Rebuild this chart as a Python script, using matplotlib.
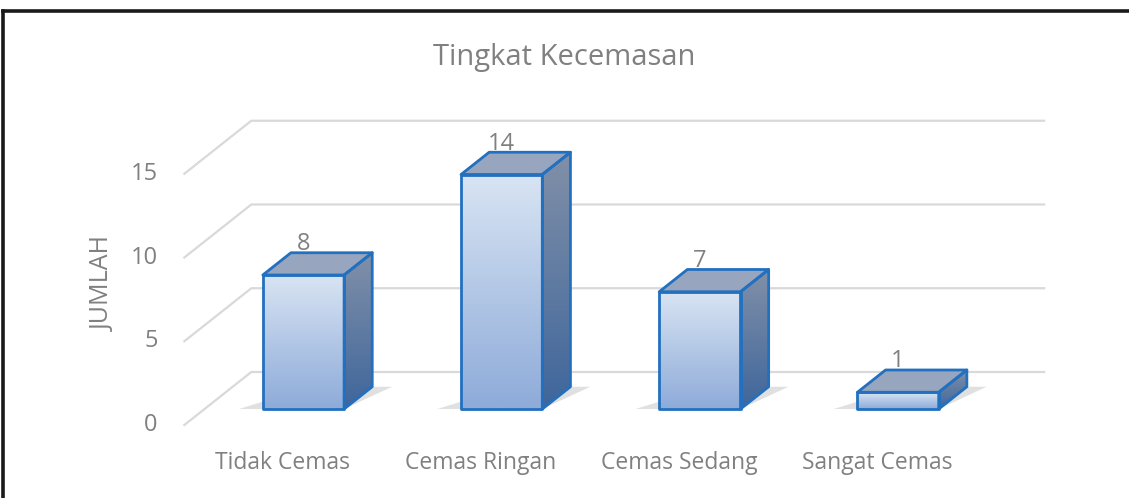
import numpy as np
import matplotlib
matplotlib.use("Agg")
import matplotlib.pyplot as plt
from matplotlib.patches import Polygon
from matplotlib.lines import Line2D

categories = ["Tidak Cemas", "Cemas Ringan", "Cemas Sedang", "Sangat Cemas"]
values = [8, 14, 7, 1]
yticks = [0, 5, 10, 15]
title = "Tingkat Kecemasan"
ylabel = "JUMLAH"

plt.rcParams['font.family'] = ['Open Sans', 'DejaVu Sans']
gray = "#808080"
edge = "#2270c0"

# oblique projection: full floor depth, in data units (x = categories, y = values)
DEPTH = np.array([0.338, 3.165])
FRONT = np.array([-0.101, -0.955])   # front edge of floor relative to bar front plane
T0, T1 = 0.30, 0.72                  # bar depth range as fraction of floor depth
W = 0.41


def at(x, y, t):
    return np.array([x, y]) + FRONT + DEPTH * t


fig = plt.figure(figsize=(11.29, 4.98), dpi=100)
ax = fig.add_axes([0, 0, 1, 1])
ax.set_xlim(-1.531, 4.165)
ax.set_ylim(-5.313, 24.418)
ax.axis("off")

# back wall gridlines with the diagonal on the side wall
n = len(categories)
for v in yticks:
    p0 = at(-0.5, v, 0)
    p1 = at(-0.5, v, 1)
    p2 = at(n - 0.5, v, 1)
    ax.plot([p0[0], p1[0], p2[0]], [p0[1], p1[1], p2[1]], color="#d9d9d9", lw=1.6, zorder=1)
    ax.text(p0[0] - 0.135, p0[1], str(v), ha="right", va="center", fontsize=17, color=gray)

ax.text(-1.01, 7.5, ylabel, rotation=90, ha="center", va="center", fontsize=18, color=gray)


def grad_fill(poly_pts, c_top, c_bot, z):
    poly = Polygon(poly_pts, closed=True, facecolor="none", edgecolor="none", zorder=z)
    ax.add_patch(poly)
    xs, ys = poly_pts[:, 0], poly_pts[:, 1]
    c1 = np.array(matplotlib.colors.to_rgb(c_top))
    c2 = np.array(matplotlib.colors.to_rgb(c_bot))
    g = np.linspace(0, 1, 64)[:, None]
    img = (c1 * (1 - g) + c2 * g)[:, None, :]
    im = ax.imshow(img, extent=[xs.min(), xs.max(), ys.min(), ys.max()],
                   origin="upper", aspect="auto", zorder=z, interpolation="bilinear")
    im.set_clip_path(poly)


off = -at(0, 0, T0)
for i, v in enumerate(values):
    xl, xr = i - W / 2, i + W / 2
    # soft shadow on floor
    sh = np.array([at(xl - 0.12, 0, T0), at(xr, 0, T0), at(xr + 0.1, 0, T1),
                   at(xl + 0.1, 0, T1)]) + off
    ax.add_patch(Polygon(sh, closed=True, facecolor="#c8c8c8", edgecolor="none",
                         alpha=0.55, zorder=2))
    front = np.array([at(xl, 0, T0), at(xr, 0, T0), at(xr, v, T0), at(xl, v, T0)]) + off
    side = np.array([at(xr, 0, T0), at(xr, 0, T1), at(xr, v, T1), at(xr, v, T0)]) + off
    top = np.array([at(xl, v, T0), at(xr, v, T0), at(xr, v, T1), at(xl, v, T1)]) + off
    grad_fill(front, "#d8e4f3", "#8eabd9", 3)
    grad_fill(side, "#8190a8", "#3f669c", 3)
    ax.add_patch(Polygon(top, closed=True, facecolor="#97a6be", edgecolor="none", zorder=3))
    for poly in (front, side, top):
        ax.add_patch(Polygon(poly, closed=True, facecolor="none", edgecolor=edge,
                             lw=2, joinstyle="round", zorder=4))
    ax.text(i, v + 1.85, str(v), ha="center", va="center", fontsize=17, color=gray, zorder=5)
    ax.text(i - 0.105, -3.2, categories[i], ha="center", va="center", fontsize=16.5, color=gray)

ax.text(0.5, 0.885, title, transform=fig.transFigure, ha="center", va="center",
        fontsize=21, color=gray)

# frame visible on top and left only
fig.add_artist(Line2D([0.0027, 1], [0.9789, 0.9789], transform=fig.transFigure,
                      color="#1a1a1a", lw=2.6))
fig.add_artist(Line2D([0.0031, 0.0031], [0, 0.9789], transform=fig.transFigure,
                      color="#1a1a1a", lw=2.6))

fig.savefig("out.png", dpi=100)
